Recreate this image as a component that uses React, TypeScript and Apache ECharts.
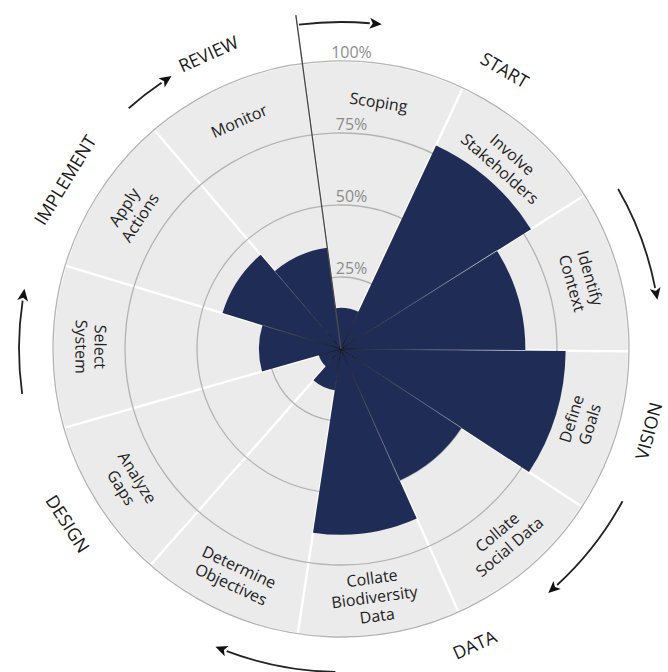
import React, { useEffect, useRef } from 'react';
import * as echarts from 'echarts';

// ---------- data ----------
const categories = [
  'Scoping',
  'Involve\nStakeholders',
  'Identify\nContext',
  'Define\nGoals',
  'Collate\nSocial Data',
  'Collate\nBiodiversity\nData',
  'Determine\nObjectives',
  'Analyze\nGaps',
  'Select\nSystem',
  'Apply\nActions',
  'Monitor',
];
const progress = [14.3, 78, 64, 78, 50, 64.5, 14.5, 8, 28.5, 43, 35.5];
const fullScale = [100, 100, 100, 100, 100, 100, 100, 100, 100, 100, 100];
const radiusTicks = [25, 50, 75, 100];
const tickLabels = ['25%', '50%', '75%', '100%'];
const stages = ['START', 'VISION', 'DATA', 'DESIGN', 'IMPLEMENT', 'REVIEW'];
const stageAngles = [30.4, 104.9, 155.7, 237.4, 301.5, 335.8];
const stageRadius = [324, 318, 324, 324, 324, 324];
const arrowStart = [-7.4, 60, 118.4, 181, 262, 318.6];
const arrowTip = [6.8, 80.8, 139.3, 202.5, 280.4, 327.8];
const arrowRadius = [327, 320, 320, 323, 322, 321];

// ---------- layout ----------
const W = 668;
const H = 672;
const CX = 341;
const CY = 349;
const R = 288;
const START_ANGLE = 97.7; // math degrees (counter-clockwise from east)
const NAVY = '#1f2d56';
const FONT = '"Open Sans", "Noto Sans", sans-serif';

const rad = (d: number) => (d * Math.PI) / 180;
const pt = (theta: number, r: number) => [CX + r * Math.sin(rad(theta)), CY - r * Math.cos(rad(theta))];
const compassOf = (x: number, y: number, cx: number, cy: number) => {
  let t = (Math.atan2(x - cx, -(y - cy)) * 180) / Math.PI;
  return ((t % 360) + 360) % 360;
};

function buildGraphics() {
  const g: any[] = [];
  // arrows
  arrowStart.forEach((s, i) => {
    const r = arrowRadius[i];
    const headLen = 12;
    const headHalf = 5.5;
    const endDeg = arrowTip[i] - ((headLen - 2) / r) * (180 / Math.PI);
    g.push({
      type: 'arc',
      z: 100,
      silent: true,
      shape: { cx: CX, cy: CY, r, startAngle: rad(s - 90), endAngle: rad(endDeg - 90), clockwise: true },
      style: { stroke: '#222', lineWidth: 1.8, fill: 'none' },
    });
    const base = pt(endDeg, r);
    const t = rad(endDeg);
    const T = [Math.cos(t), Math.sin(t)];
    const N = [Math.sin(t), -Math.cos(t)];
    const tip = [base[0] + T[0] * headLen, base[1] + T[1] * headLen];
    const notch = [base[0] + T[0] * 3, base[1] + T[1] * 3];
    g.push({
      type: 'polygon',
      z: 100,
      silent: true,
      shape: {
        points: [
          tip,
          [base[0] + N[0] * headHalf, base[1] + N[1] * headHalf],
          notch,
          [base[0] - N[0] * headHalf, base[1] - N[1] * headHalf],
        ],
      },
      style: { fill: '#111' },
    });
  });
  // stage labels
  stages.forEach((s, i) => {
    const th = stageAngles[i];
    const p = pt(th, stageRadius[i]);
    const flip = th > 90 && th < 270;
    const rot = flip ? th - 180 : th;
    g.push({
      type: 'text',
      z: 100,
      silent: true,
      x: p[0],
      y: p[1],
      rotation: -rad(rot),
      style: {
        text: s,
        fill: '#1a1a1a',
        fontSize: 18,
        fontFamily: FONT,
        align: 'center',
        verticalAlign: 'middle',
      },
    });
  });
  // pointer line
  const pointerTheta = 90 - START_ANGLE;
  const pEnd = pt(pointerTheta, 337);
  g.push({
    type: 'line',
    z: 100,
    silent: true,
    shape: { x1: CX, y1: CY, x2: pEnd[0], y2: pEnd[1] },
    style: { stroke: '#4a4a4a', lineWidth: 1.4 },
  });
  return g;
}

export default function App() {
  const ref = useRef<HTMLDivElement>(null);

  useEffect(() => {
    if (!ref.current) return;
    const chart = echarts.init(ref.current, undefined, { renderer: 'svg' });

    const separatorData = [];
    for (let k = 1; k < categories.length; k++) {
      separatorData.push([Math.min(progress[k - 1], progress[k]), k]);
    }

    const option: any = {
      animation: false,
      backgroundColor: '#ffffff',
      polar: { center: [CX, CY], radius: [0, R] },
      angleAxis: {
        type: 'category',
        data: categories,
        startAngle: START_ANGLE,
        clockwise: true,
        boundaryGap: true,
        axisLine: { show: false },
        axisTick: { show: false },
        axisLabel: { show: false },
        splitLine: { show: false },
      },
      radiusAxis: {
        type: 'value',
        min: 0,
        max: 100,
        axisLine: { show: false },
        axisTick: { show: false },
        axisLabel: { show: false },
        splitLine: { show: false },
      },
      series: [
        {
          type: 'bar',
          name: 'background',
          coordinateSystem: 'polar',
          data: fullScale,
          barCategoryGap: '0%',
          barGap: '-100%',
          silent: true,
          z: 1,
          itemStyle: { color: '#ebebeb', borderColor: '#ffffff', borderWidth: 2.2 },
        },
        {
          type: 'custom',
          name: 'rings',
          coordinateSystem: 'polar',
          silent: true,
          z: 2,
          data: radiusTicks.map((t) => [t, 0]),
          renderItem: (params: any, api: any) => {
            const cs = params.coordSys || {};
            const cx = cs.cx ?? CX;
            const cy = cs.cy ?? CY;
            const p = api.coord([api.value(0), 0]);
            const r = Math.hypot(p[0] - cx, p[1] - cy);
            return {
              type: 'circle',
              shape: { cx, cy, r },
              style: { fill: 'none', stroke: '#b3b3b3', lineWidth: 1.3 },
            };
          },
        },
        {
          type: 'bar',
          name: 'progress',
          coordinateSystem: 'polar',
          data: progress,
          barCategoryGap: '0%',
          barGap: '-100%',
          silent: true,
          z: 3,
          itemStyle: { color: NAVY },
        },
        {
          type: 'custom',
          name: 'separators',
          coordinateSystem: 'polar',
          silent: true,
          z: 4,
          data: separatorData,
          renderItem: (params: any, api: any) => {
            const cs = params.coordSys || {};
            const cx = cs.cx ?? CX;
            const cy = cs.cy ?? CY;
            const k = api.value(1);
            const rv = api.value(0);
            const a = api.coord([rv, k - 1]);
            const b = api.coord([rv, k]);
            const ta = compassOf(a[0], a[1], cx, cy);
            let tb = compassOf(b[0], b[1], cx, cy);
            if (tb < ta) tb += 360;
            const th = (ta + tb) / 2;
            const r = Math.hypot(a[0] - cx, a[1] - cy);
            const x2 = cx + r * Math.sin(rad(th));
            const y2 = cy - r * Math.cos(rad(th));
            const gx = cx + 230 * Math.sin(rad(th));
            const gy = cy - 230 * Math.cos(rad(th));
            return {
              type: 'line',
              shape: { x1: cx, y1: cy, x2, y2 },
              style: {
                lineWidth: 1,
                stroke: new echarts.graphic.LinearGradient(cx, cy, gx, gy, [
                  { offset: 0, color: '#0d1020' },
                  { offset: 0.5, color: '#6b7288' },
                  { offset: 1, color: '#f4f4f4' },
                ], true),
              },
            };
          },
        },
        {
          type: 'custom',
          name: 'categoryLabels',
          coordinateSystem: 'polar',
          silent: true,
          z: 5,
          data: categories.map((c, i) => [86.8, i]),
          renderItem: (params: any, api: any) => {
            const cs = params.coordSys || {};
            const cx = cs.cx ?? CX;
            const cy = cs.cy ?? CY;
            const p = api.coord([api.value(0), params.dataIndex]);
            const th = compassOf(p[0], p[1], cx, cy);
            const flip = th > 90 && th < 272;
            const rot = flip ? th - 180 : th;
            return {
              type: 'text',
              x: p[0],
              y: p[1],
              rotation: -rad(rot),
              style: {
                text: categories[params.dataIndex],
                fill: '#222222',
                fontSize: 16,
                fontFamily: FONT,
                lineHeight: 19,
                align: 'center',
                verticalAlign: 'middle',
              },
            };
          },
        },
        {
          type: 'custom',
          name: 'tickLabels',
          coordinateSystem: 'polar',
          silent: true,
          z: 6,
          data: radiusTicks.map((t) => [t, 0]),
          renderItem: (params: any, api: any) => {
            const cs = params.coordSys || {};
            const cx = cs.cx ?? CX;
            const cy = cs.cy ?? CY;
            const p = api.coord([api.value(0), 0]);
            const r = Math.hypot(p[0] - cx, p[1] - cy);
            return {
              type: 'text',
              x: cx + 10.5,
              y: cy - r - 9.5,
              style: {
                text: tickLabels[params.dataIndex],
                fill: '#8c8c8c',
                fontSize: 16,
                fontFamily: FONT,
                align: 'center',
                verticalAlign: 'middle',
              },
            };
          },
        },
      ],
      graphic: buildGraphics(),
    };

    chart.setOption(option);
    return () => chart.dispose();
  }, []);

  return (
    <div
      ref={ref}
      style={{ position: 'absolute', left: 0, top: 0, width: W, height: H, background: '#fff' }}
    />
  );
}
